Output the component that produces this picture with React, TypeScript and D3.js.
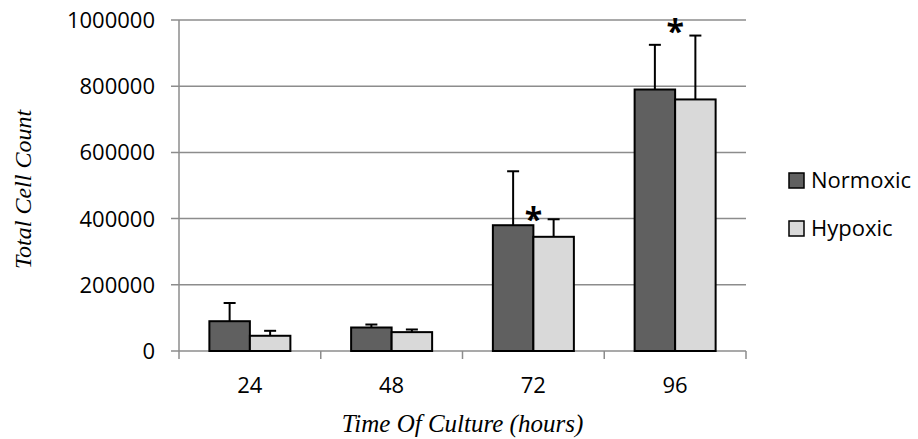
import React from "react";
import * as d3 from "d3";

// Time points (hours) and the two culture conditions
const categories = ["24", "48", "72", "96"];
const seriesNames = ["Normoxic", "Hypoxic"];
const normoxicMean = [90000, 71000, 380000, 790000];
const normoxicErr = [55000, 9000, 163000, 135000];
const hypoxicMean = [46000, 57000, 345000, 760000];
const hypoxicErr = [15000, 8000, 53000, 193000];
// Height (cell count) at which a significance star is placed; null = none
const starLevel: (number | null)[] = [null, null, 433000, 1000000];
const yTicks = [0, 200000, 400000, 600000, 800000, 1000000];

const seriesFill = ["#606060", "#d9d9d9"];
const W = 918;
const H = 439;
const M = { left: 179, right: 746, top: 20, bottom: 351 };
const sans = "'Open Sans', sans-serif";
const serif = "'Liberation Serif', 'Times New Roman', serif";

export default function App() {
  const x = d3
    .scaleBand<string>()
    .domain(categories)
    .range([M.left, M.right])
    .paddingInner(0)
    .paddingOuter(0);
  const inner = d3
    .scaleBand<string>()
    .domain(seriesNames)
    .range([0, x.bandwidth()])
    .paddingInner(0)
    .paddingOuter(0.75);
  const y = d3.scaleLinear().domain([0, 1000000]).range([M.bottom, M.top]);

  const means = [normoxicMean, hypoxicMean];
  const errs = [normoxicErr, hypoxicErr];
  const capHalf = 6;

  return (
    <svg width={W} height={H} style={{ display: "block", position: "absolute", left: 0, top: 0 }}>
      <rect width={W} height={H} fill="#ffffff" />
      {/* horizontal gridlines and y tick marks */}
      {yTicks.map((t) => (
        <g key={t}>
          <line x1={M.left - 8} x2={M.right} y1={y(t)} y2={y(t)} stroke="#8c8c8c" strokeWidth={1.5} />
          <text
            x={M.left - 24}
            y={y(t)}
            dy="0.36em"
            textAnchor="end"
            fontFamily={sans}
            fontSize={22}
            fill="#000"
          >
            {t}
          </text>
        </g>
      ))}
      {/* y axis line */}
      <line x1={M.left} x2={M.left} y1={M.top} y2={M.bottom} stroke="#8c8c8c" strokeWidth={1.5} />
      {/* x tick marks at band edges */}
      {[...categories.map((c) => x(c) as number), M.right].map((px, i) => (
        <line key={i} x1={px} x2={px} y1={M.bottom} y2={M.bottom + 8} stroke="#8c8c8c" strokeWidth={1.5} />
      ))}
      {/* bars with upward error bars */}
      {categories.map((c, ci) => (
        <g key={c}>
          {seriesNames.map((s, si) => {
            const bx = (x(c) as number) + (inner(s) as number);
            const bw = inner.bandwidth();
            const cx = bx + bw / 2;
            const top = y(means[si][ci]);
            const eTop = y(means[si][ci] + errs[si][ci]);
            return (
              <g key={s}>
                <rect
                  x={bx}
                  y={top}
                  width={bw}
                  height={M.bottom - top}
                  fill={seriesFill[si]}
                  stroke="#000"
                  strokeWidth={2}
                />
                <line x1={cx} x2={cx} y1={top} y2={eTop} stroke="#000" strokeWidth={2} />
                <line x1={cx - capHalf} x2={cx + capHalf} y1={eTop} y2={eTop} stroke="#000" strokeWidth={2} />
              </g>
            );
          })}
          {starLevel[ci] !== null && (
            <text
              x={(x(c) as number) + x.bandwidth() / 2}
              y={y(starLevel[ci] as number)}
              dy="0.72em"
              textAnchor="middle"
              fontFamily={sans}
              fontWeight={700}
              fontSize={32}
              fill="#000"
            >
              *
            </text>
          )}
          <text
            x={(x(c) as number) + x.bandwidth() / 2}
            y={393}
            textAnchor="middle"
            fontFamily={sans}
            fontSize={22}
            fill="#000"
          >
            {c}
          </text>
        </g>
      ))}
      {/* axis titles */}
      <text
        x={(M.left + M.right) / 2}
        y={432}
        textAnchor="middle"
        fontFamily={serif}
        fontStyle="italic"
        fontSize={25}
        fill="#000"
      >
        Time Of Culture (hours)
      </text>
      <text
        transform={`translate(31, ${(M.top + M.bottom) / 2 + 4}) rotate(-90)`}
        textAnchor="middle"
        fontFamily={serif}
        fontStyle="italic"
        fontSize={24}
        fill="#000"
      >
        Total Cell Count
      </text>
      {/* legend */}
      {seriesNames.map((s, si) => (
        <g key={s} transform={`translate(789, ${173 + si * 48})`}>
          <rect x={0} y={0} width={15} height={15} fill={seriesFill[si]} stroke="#000" strokeWidth={1.5} />
          <text x={22} y={15} fontFamily={sans} fontSize={22} fill="#000">
            {s}
          </text>
        </g>
      ))}
    </svg>
  );
}
